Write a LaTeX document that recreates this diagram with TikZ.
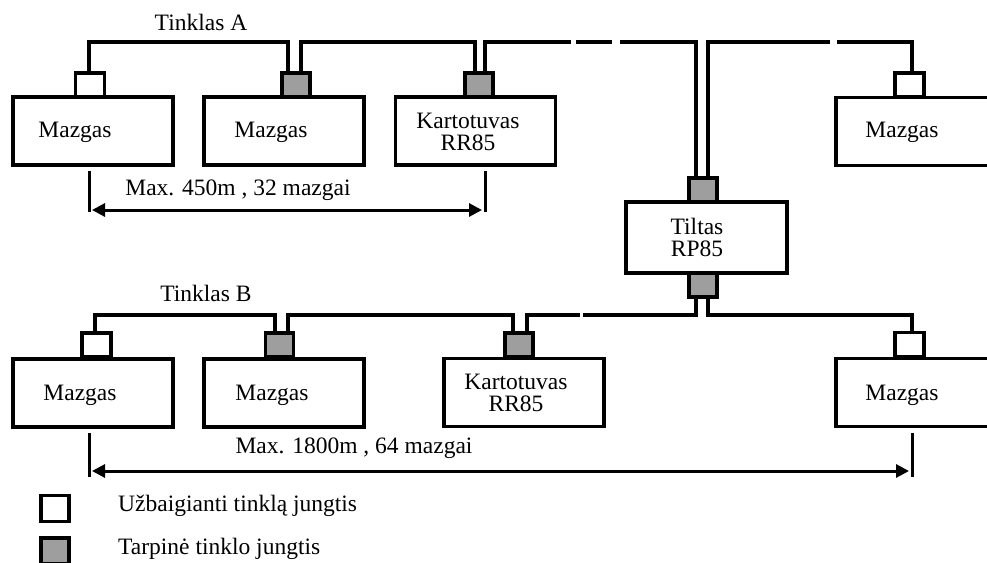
\documentclass[tikz,border=0pt]{standalone}
\usepackage{fontspec}
\setmainfont{Liberation Serif}
\usetikzlibrary{arrows.meta}
\definecolor{plug}{RGB}{158,158,158}
\begin{document}
\begin{tikzpicture}[x=1pt,y=-1pt,
  font=\fontsize{23.5}{27}\selectfont,
  wire/.style={line width=3.2pt,line cap=rect},
  unit/.style={draw,line width=3.4pt,fill=white,minimum width=160pt,minimum height=68pt,inner sep=0pt},
  term/.style={draw,line width=3.2pt,fill=white,minimum width=29pt,minimum height=24pt,inner sep=0pt},
  mid/.style={draw,line width=3.6pt,fill=plug,minimum width=28pt,minimum height=24pt,inner sep=0pt},
  label/.style={inner sep=0pt,align=center},
  dim/.style={line width=3pt,{Triangle[length=13pt,width=13pt]}-{Triangle[length=13pt,width=13pt]}},
  tick/.style={line width=3pt}]
\useasboundingbox (0,0) rectangle (987,562);
\clip (0,0) rectangle (987,562);

\coordinate (busA) at (0,42);
\coordinate (busB) at (0,315);

% ---- network A ----
\node[unit] (uA1) at (93,131) {};
\node[unit] (uA2) at (284,131) {};
\node[unit] (uA3) at (475.5,131) {};
\node[unit,minimum width=170pt] (uA4) at (921,131.5) {};
\node[term] (cA1) at (90,85) {};
\node[mid] (cA2) at (296,85) {};
\node[mid] (cA3) at (479,85) {};
\node[term] (cA4) at (909.5,85) {};

\node[label] at (201,22) {Tinklas A};
\node[label] at (75,132) {Mazgas};
\node[label] at (271,132) {Mazgas};
\node[label] at (468,132) {Kartotuvas\\[-5pt]RR85};
\node[label] at (902,132) {Mazgas};

% ---- bridge ----
\node[unit,minimum width=161pt,minimum height=71pt] (tilt) at (706.5,237.5) {};
\node[mid,line width=4.6pt] (tT) at (703,190) {};
\node[mid,line width=4.6pt] (tB) at (703,285) {};
\node[label] at (697,237) {Tiltas\\[-5pt]RP85};

% ---- network B ----
\node[unit] (uB1) at (93,393) {};
\node[unit] (uB2) at (284,393) {};
\node[unit] (uB3) at (524,392.5) {};
\node[unit,minimum width=170pt] (uB4) at (921,392.5) {};
\node[term] (cB1) at (96.5,345) {};
\node[mid] (cB2) at (279.5,345) {};
\node[mid] (cB3) at (519,345) {};
\node[term] (cB4) at (909.5,344.5) {};

\node[label] at (206,293) {Tinklas B};
\node[label] at (80,395) {Mazgas};
\node[label] at (272,395) {Mazgas};
\node[label] at (516,393) {Kartotuvas\\[-5pt]RR85};
\node[label] at (902,395) {Mazgas};

% ---- bus A wiring ----
\draw[wire] ([xshift=-1pt]cA1.north) -- ([xshift=-1pt]cA1.north |- busA)
  -| ([xshift=-8pt]cA2.north);
\draw[wire] ([xshift=5pt]cA2.north) -- ([xshift=5pt]cA2.north |- busA)
  -| ([xshift=-4pt]cA3.north);
\draw[wire,line cap=butt,dash pattern=on 115pt off 5pt on 36pt off 8pt on 2000pt]
  ([xshift=6pt]cA3.north) -- ([xshift=6pt]cA3.north |- busA)
  -| ([xshift=-7pt]tT.north);
\draw[wire,line cap=butt,dash pattern=on 256pt off 7pt on 2000pt]
  ([xshift=5pt]tT.north) -- ([xshift=5pt]tT.north |- busA)
  -| ([xshift=2.5pt]cA4.north);

% ---- bus B wiring ----
\draw[wire] ([xshift=-1.5pt]cB1.north) -- ([xshift=-1.5pt]cB1.north |- busB)
  -| ([xshift=-4.5pt]cB2.north);
\draw[wire] ([xshift=8.5pt]cB2.north) -- ([xshift=8.5pt]cB2.north |- busB)
  -| ([xshift=-6pt]cB3.north);
\draw[wire,line cap=butt,dash pattern=on 69pt off 3pt on 2000pt]
  ([xshift=8pt]cB3.north) -- ([xshift=8pt]cB3.north |- busB)
  -| ([xshift=-7pt]tB.south);
\draw[wire] ([xshift=5pt]tB.south) -- ([xshift=5pt]tB.south |- busB)
  -| ([xshift=2.5pt]cB4.north);

% ---- span of network A ----
\coordinate (aL) at (89,171);
\coordinate (aR) at (485,171);
\draw[tick] (aL) -- ++(0,41);
\draw[tick] (aR) -- ++(0,41);
\draw[dim] ([xshift=3pt,yshift=-39pt]aL) -- ([xshift=-3pt,yshift=-39pt]aR);
\node[label] at (238,190) {Max. 450m , 32 mazgai};

% ---- span of network B ----
\coordinate (bL) at (89,433);
\coordinate (bR) at (912,433);
\draw[tick] (bL) -- ++(0,44);
\draw[tick] (bR) -- ++(0,44);
\draw[dim] ([xshift=3pt,yshift=-38pt]bL) -- ([xshift=-3pt,yshift=-38pt]bR);
\node[label] at (354,448) {Max. 1800m , 64 mazgai};

% ---- legend ----
\node[term,minimum width=28pt,minimum height=26pt] (kT) at (55,508.5) {};
\node[mid,minimum width=28pt,minimum height=26pt] (kM) at (55,551) {};
\node[label,anchor=west] at (118,506) {Užbaigianti tinklą jungtis};
\node[label,anchor=west] at (118,549) {Tarpinė tinklo jungtis};
\end{tikzpicture}
\end{document}
